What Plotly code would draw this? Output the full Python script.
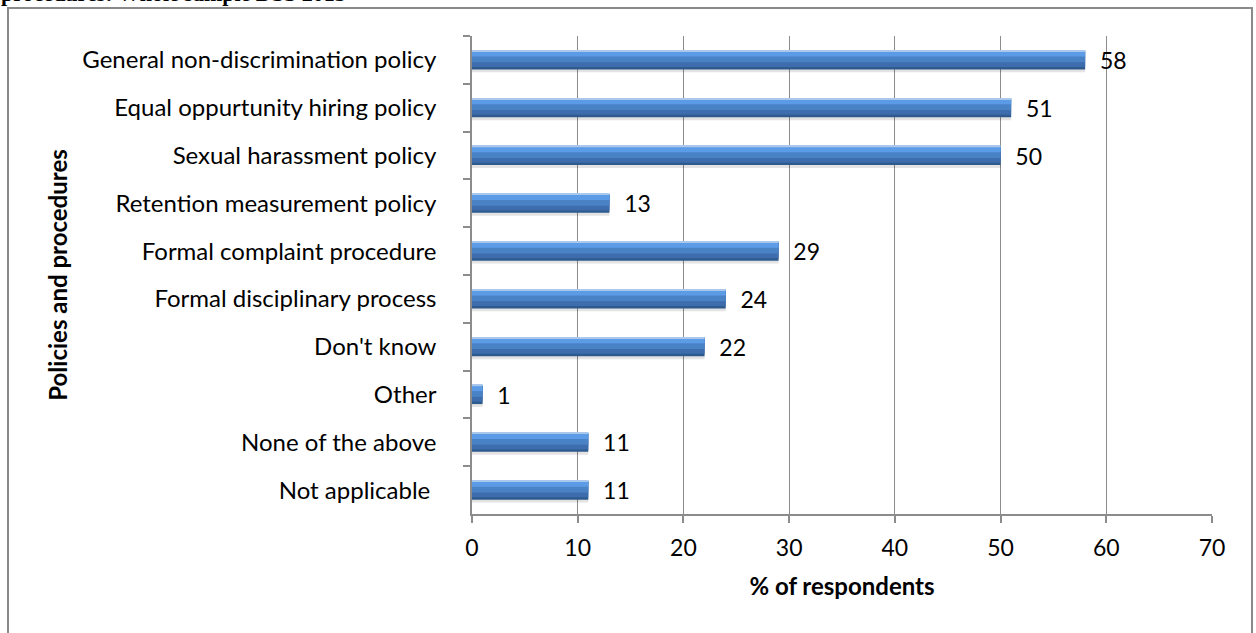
import plotly.graph_objects as go

categories = [
    "General non-discrimination policy",
    "Equal oppurtunity hiring policy",
    "Sexual harassment policy",
    "Retention measurement policy",
    "Formal complaint procedure",
    "Formal disciplinary process",
    "Don't know",
    "Other",
    "None of the above",
    "Not applicable\u00a0",
]
values = [58, 51, 50, 13, 29, 24, 22, 1, 11, 11]
x_ticks = [0, 10, 20, 30, 40, 50, 60, 70]

W, H = 1256, 633
L, R, T, B = 472, 1212, 36, 514   # plot area in pixels
FONT = "Lato"

def px_x(p):
    return (p - L) / (R - L)

def px_y(p):
    return (B - p) / (B - T)

fig = go.Figure()

# layered bars give each bar a rounded, cylinder-like shading
layers = [
    # (colour, width, offset)
    ("rgba(0,0,0,0.11)", 0.36, -0.10),   # drop shadow
    ("#2E5A8E", 0.40, -0.20),            # dark rim
    ("#3D6DAD", 0.34, -0.19),            # lower body
    ("#4A82C6", 0.24, -0.19),            # middle body
    ("#5C9CE6", 0.11, -0.18),            # bright band
    ("#A9C8EC", 0.025, -0.20),           # top highlight
]
for i, (colour, width, offset) in enumerate(layers):
    kw = {}
    if i == 1:
        kw = dict(
            text=values, texttemplate="\u00a0\u00a0%{x}", textposition="outside",
            textfont=dict(family=FONT, size=23, color="black"),
            constraintext="none", cliponaxis=False,
        )
    fig.add_trace(go.Bar(
        y=categories, x=values, orientation="h",
        marker=dict(color=colour, line=dict(width=0)),
        width=width, offset=offset, hoverinfo="skip", showlegend=False, **kw,
    ))

fig.update_layout(
    width=W, height=H,
    margin=dict(l=L, r=W - R, t=T, b=H - B),
    barmode="overlay",
    plot_bgcolor="white", paper_bgcolor="white",
    font=dict(family=FONT, size=24, color="black"),
    xaxis=dict(
        range=[0, 70], tickvals=x_ticks, ticktext=[str(v) for v in x_ticks],
        tickfont=dict(size=23),
        showgrid=True, gridcolor="#8C8C8C", gridwidth=1,
        showline=True, linecolor="#8C8C8C", linewidth=1.5,
        ticks="outside", ticklen=7, tickcolor="#8C8C8C", tickwidth=1.5,
        zeroline=False, ticklabelstandoff=6,
        title=dict(text="<b>% of respondents</b>", font=dict(family=FONT, size=24), standoff=18),
    ),
    yaxis=dict(
        categoryorder="array", categoryarray=categories, autorange="reversed",
        showgrid=False, showline=True, linecolor="#8C8C8C", linewidth=1.5,
        ticks="outside", ticklen=7, tickcolor="#8C8C8C", tickwidth=1.5,
        tickson="boundaries", ticklabelstandoff=29,
        title=dict(text="<b>Policies and procedures</b>", font=dict(family=FONT, size=24), standoff=8),
    ),
    shapes=[dict(
        type="rect", xref="paper", yref="paper",
        x0=px_x(8), x1=px_x(1252), y0=px_y(660), y1=px_y(8),
        line=dict(color="#8A8A8A", width=2), fillcolor="rgba(0,0,0,0)", layer="below",
    )],
    annotations=[dict(
        text="<b>procedures: Whole sample DSS 2013</b>",
        xref="paper", yref="paper", x=px_x(-1), y=px_y(8),
        xanchor="left", yanchor="bottom", showarrow=False,
        font=dict(family="Liberation Serif", size=22, color="black"),
    )],
)

fig.write_html("out.html")
